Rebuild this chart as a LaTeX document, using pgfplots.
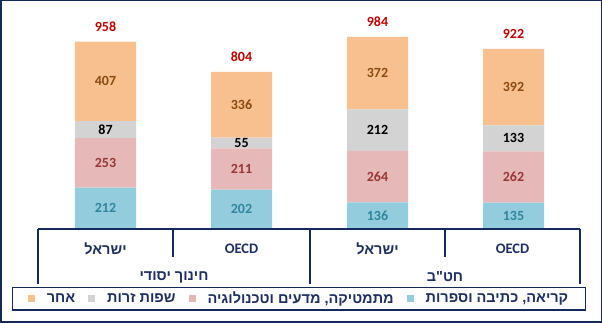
\documentclass[border=0pt]{standalone}
\usepackage{pgfplots}
\pgfplotsset{compat=1.18}
\usepackage{fontspec}
\setmainfont{Carlito}
\newfontfamily\hebfont[Script=Hebrew]{Liberation Sans}
\TeXXeTstate=1
\definecolor{navy}{HTML}{14295C}
\definecolor{txtnavy}{HTML}{1C2F5F}
\definecolor{cblue}{HTML}{93CDDD}
\definecolor{cpink}{HTML}{E6B9B8}
\definecolor{cgrey}{HTML}{D3D3D3}
\definecolor{corange}{HTML}{F9C08F}
\definecolor{lblue}{HTML}{31859C}
\definecolor{lpink}{HTML}{953735}
\definecolor{lorange}{HTML}{8A4A10}
\definecolor{ltot}{HTML}{C00000}
\newcommand{\heb}[1]{{\hebfont\bfseries\beginR #1\endR}}
\pgfplotsset{
  sq/.style={legend image code/.code={\fill[##1] (0pt,-3.5pt) rectangle (7pt,3.5pt); \path (7pt,0pt) -- (10pt,0pt);}},
  base/.style={at={(37.5pt,94pt)}, anchor=south west, scale only axis,
    width=544pt, height=219pt, xmin=-0.5, xmax=3.5, ymin=0, ymax=1121,
    hide axis, clip=false},
  lbl/.style={only marks, mark=*, mark size=0pt, mark options={draw=none, fill=none},
    nodes near coords, point meta=explicit symbolic, nodes near coords align={anchor=center},
    every node near coord/.append style={anchor=center, font=\fontsize{14}{16}\selectfont\bfseries, text=#1}}
}
\begin{document}
\begin{tikzpicture}
\useasboundingbox (0pt,0pt) rectangle (602pt,323pt);
\begin{axis}[base, ybar stacked, bar width=61pt,
  reverse legend, legend columns=4,
  legend style={at={(0.4807,-0.265)}, anchor=north, draw=navy, line width=1.2pt,
    font=\fontsize{14.5}{16}\selectfont\color{txtnavy}, inner xsep=15pt, inner ysep=2.5pt,
    /tikz/every even column/.append style={column sep=11pt},
    /tikz/every odd column/.append style={column sep=7pt}},
  legend cell align=left]
\addplot[fill=cblue, draw=none, sq] coordinates {(0,212) (1,202) (2,136) (3,135)};
\addlegendentry{\heb{קריאה, כתיבה וספרות}}
\addplot[fill=cpink, draw=none, sq] coordinates {(0,253) (1,211) (2,264) (3,262)};
\addlegendentry{\heb{מתמטיקה, מדעים וטכנולוגיה}}
\addplot[fill=cgrey, draw=none, sq] coordinates {(0,87) (1,55) (2,212) (3,133)};
\addlegendentry{\heb{שפות זרות}}
\addplot[fill=corange, draw=none, sq] coordinates {(0,407) (1,336) (2,372) (3,392)};
\addlegendentry{\heb{אחר}}
\end{axis}
\begin{axis}[base]
\addplot[lbl=lblue] table[meta=l] {
x y l
0 106 212
1 101 202
2 68 136
3 67.5 135
};
\addplot[lbl=lpink] table[meta=l] {
x y l
0 338.5 253
1 307.5 211
2 268 264
3 266 262
};
\addplot[lbl=black] table[meta=l] {
x y l
0 508.5 87
1 440.5 55
2 506 212
3 463.5 133
};
\addplot[lbl=lorange] table[meta=l] {
x y l
0 755.5 407
1 636 336
2 798 372
3 726 392
};
\addplot[lbl=ltot] table[meta=l] {
x y l
0 1035 958
1 880 804
2 1060 984
3 998 922
};
\end{axis}
% category box
\draw[navy, line width=1.2pt] (38pt,94pt) -- (580pt,94pt);
\draw[navy, line width=1.2pt] (38pt,94pt) -- (38pt,39pt);
\draw[navy, line width=1.2pt] (310pt,94pt) -- (310pt,39pt);
\draw[navy, line width=1.2pt] (580pt,94pt) -- (580pt,39pt);
\draw[navy, line width=1.2pt] (173pt,94pt) -- (173pt,66pt);
\draw[navy, line width=1.2pt] (445pt,94pt) -- (445pt,66pt);
\begin{scope}[every node/.style={text=txtnavy, font=\fontsize{14.5}{16}\selectfont\bfseries}]
\node at (105.5pt,74pt) {\heb{ישראל}};
\node at (241.5pt,74pt) {OECD};
\node at (377.5pt,74pt) {\heb{ישראל}};
\node at (512.5pt,74pt) {OECD};
\node at (174pt,46pt) {\heb{חינוך יסודי}};
\node at (445pt,46pt) {\heb{חט"ב}};
\end{scope}
\draw[navy, line width=1.5pt] (0.75pt,0.75pt) rectangle (601.25pt,322.25pt);
\end{tikzpicture}
\end{document}
